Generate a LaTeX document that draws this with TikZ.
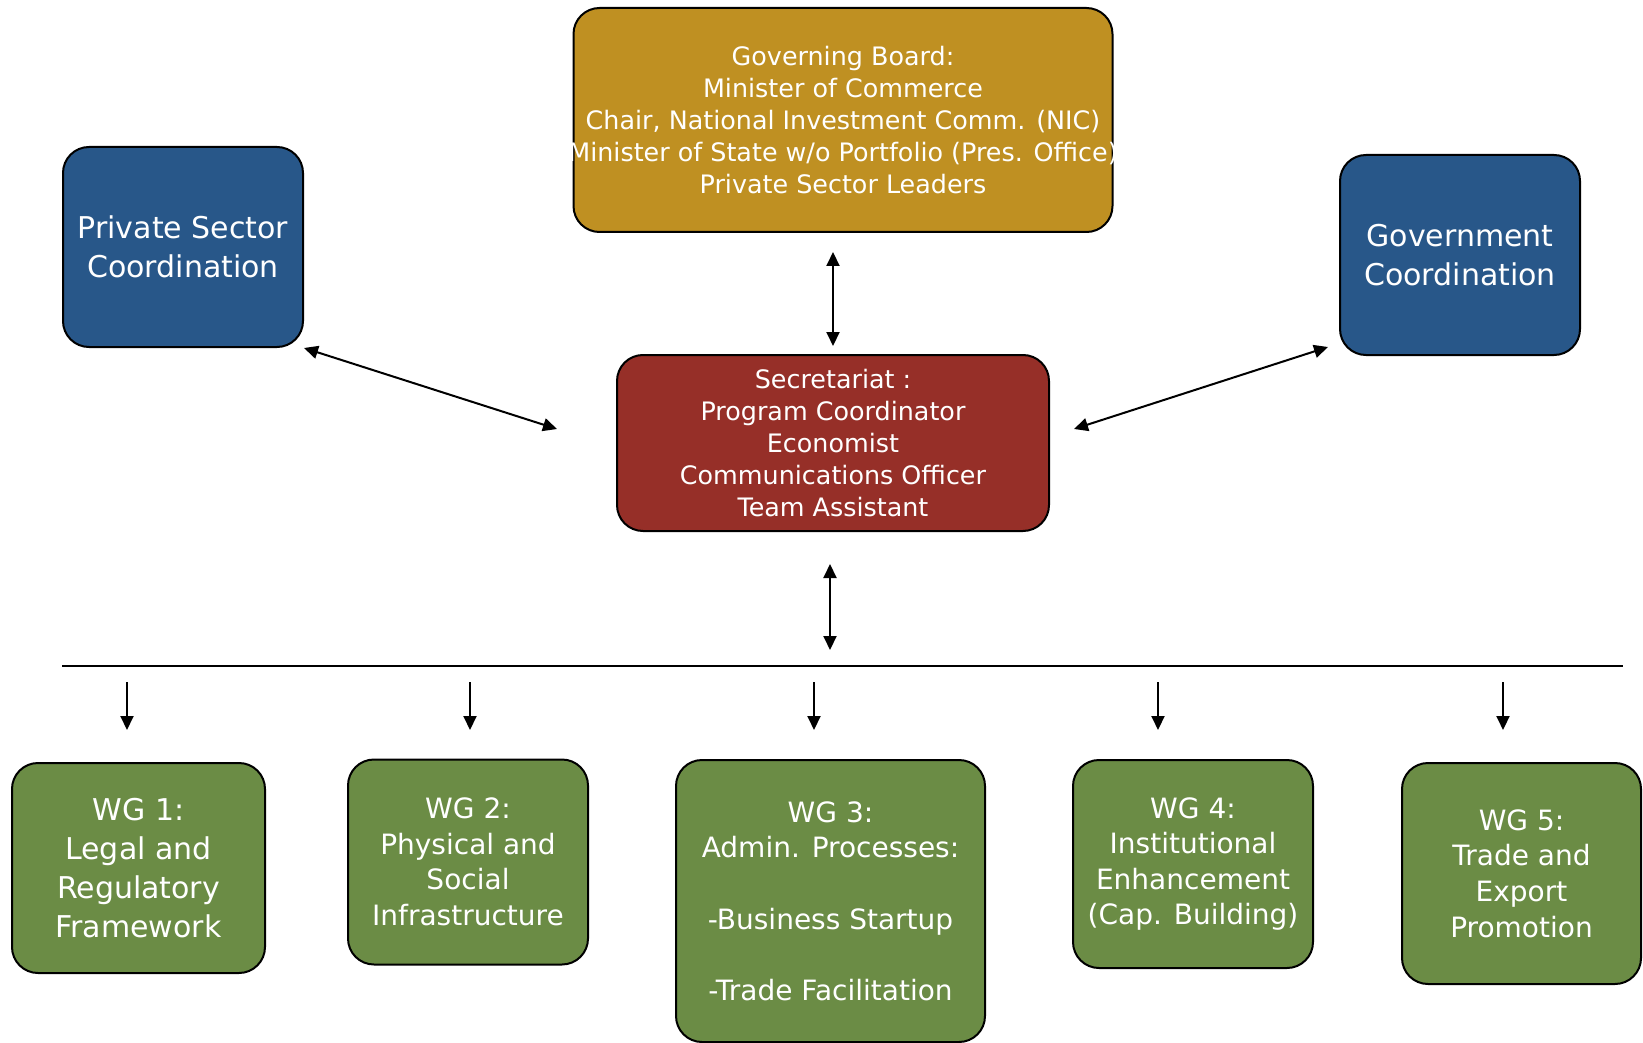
\documentclass[tikz,border=0pt]{standalone}
\usepackage{fontspec}
\setmainfont{DejaVu Sans}
\usetikzlibrary{arrows.meta}
\definecolor{boardgold}{RGB}{191,144,34}
\definecolor{coordblue}{RGB}{40,87,137}
\definecolor{secred}{RGB}{150,47,40}
\definecolor{wggreen}{RGB}{107,140,69}
\tikzset{every picture/.style={line width=1pt}}

\begin{document}
\begin{tikzpicture}[x=0.5pt,y=0.5pt,yscale=-1,xscale=1,
  box/.style={draw=black, line width=1pt, rounded corners=13pt, text=white, align=center, inner sep=0pt},
  small/.style={font=\fontsize{12.7}{16}\selectfont},
  big/.style={font=\fontsize{15}{19.5}\selectfont},
  mid/.style={font=\fontsize{14}{17.8}\selectfont},
  link/.style={line width=1pt, {Triangle[length=7pt,width=6.5pt]}-{Triangle[length=7pt,width=6.5pt]}},
  down/.style={line width=1pt, -{Triangle[length=7pt,width=6.5pt]}}]
\useasboundingbox (0,0) rectangle (1643,1043);

%Rounded Rect: board
\node [box, small, fill=boardgold, minimum width=269.5pt, minimum height=112pt] (gb) at (843,120)
  {Governing Board:\\Minister of Commerce\\Chair, National Investment Comm. (NIC)\\\makebox[200pt]{Minister of State w/o Portfolio (Pres. Office)}\\Private Sector Leaders};
%Rounded Rect: side boxes
\node [box, big, fill=coordblue, minimum width=120pt, minimum height=100pt] (prv) at (183,247) {Private Sector\\Coordination};
\node [box, big, fill=coordblue, minimum width=120pt, minimum height=100pt] (gov) at (1460,255) {Government\\Coordination};
%Rounded Rect: secretariat
\node [box, small, fill=secred, minimum width=216pt, minimum height=88pt] (sec) at (833,443)
  {Secretariat :\\Program Coordinator\\Economist\\Communications Officer\\Team Assistant};

%Rounded Rect: working groups
\node [box, big, fill=wggreen, minimum width=126.5pt, minimum height=105pt] (wg1) at (138.5,868) {WG 1:\\Legal and\\Regulatory\\Framework};
\node [box, mid, fill=wggreen, minimum width=120pt, minimum height=102.5pt] (wg2) at (468,862) {WG 2:\\Physical and\\Social\\Infrastructure};
\node [box, mid, fill=wggreen, minimum width=154.5pt, minimum height=141pt] (wg3) at (830.5,901)
  {WG 3:\\Admin. Processes:\\[17.8pt]-Business Startup\\[17.8pt]-Trade Facilitation};
\node [box, mid, fill=wggreen, minimum width=120pt, minimum height=104pt] (wg4) at (1193,864) {WG 4:\\Institutional\\Enhancement\\(Cap. Building)};
\node [box, mid, fill=wggreen, minimum width=119.5pt, minimum height=110.5pt] (wg5) at (1521.5,873.5) {WG 5:\\Trade and\\Export\\Promotion};

%Straight Lines: links to secretariat
\coordinate (secL) at (557,429);
\coordinate (secR) at (1074,429);
\coordinate (govL) at (1328,347);
\draw [link, shorten <=9.5pt, shorten >=4pt] (gb.south -| sec.north) -- (sec.north);
\draw [link] (prv.south east) -- (secL);
\draw [link] (secR) -- (govL);

%Straight Lines: bus to working groups
\coordinate (busL) at (62,666);
\coordinate (busC) at (830,666);
\coordinate (busR) at (1623,666);
\draw (busL) -- (busR);
\draw [link, shorten <=16pt, shorten >=8pt] (sec.south -| busC) -- (busC);
\foreach \x in {127,470,814,1158,1503}
  \draw [down] (\x,682) -- (\x,730);
\end{tikzpicture}
\end{document}
